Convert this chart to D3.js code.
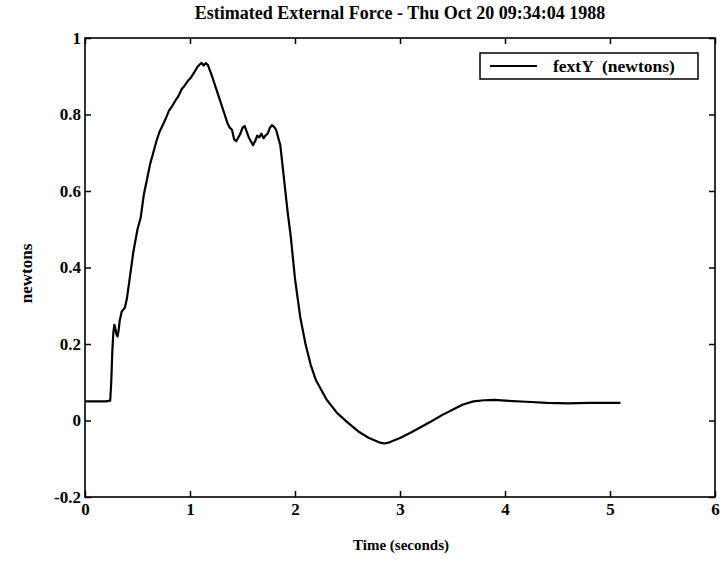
<!DOCTYPE html>
<html>
<head>
<meta charset="utf-8">
<script src="https://cdn.jsdelivr.net/npm/d3@7"></script>
<style>
  html, body { margin: 0; padding: 0; background: #fff; }
  svg { display: block; }
  text { font-family: "Liberation Serif", "Times New Roman", serif; fill: #000; }
</style>
</head>
<body>
<svg id="chart" width="723" height="568"></svg>
<script>
// Estimated external force (Y component) over time
const timeSec = [
  0, 0.1, 0.2, 0.24, 0.25, 0.26, 0.27, 0.28, 0.29, 0.30, 0.31, 0.32, 0.33, 0.35, 0.38,
  0.40, 0.43, 0.46, 0.48, 0.50, 0.53, 0.56, 0.59, 0.62, 0.65, 0.68, 0.71, 0.74, 0.77,
  0.80, 0.83, 0.86, 0.89, 0.92, 0.95, 0.98, 1.01, 1.04, 1.07, 1.09, 1.11, 1.13, 1.15,
  1.17, 1.19, 1.21, 1.24, 1.27, 1.30, 1.33, 1.36, 1.38, 1.40, 1.42, 1.44, 1.46, 1.48,
  1.50, 1.52, 1.54, 1.56, 1.58, 1.60, 1.62, 1.64, 1.66, 1.68, 1.70, 1.72, 1.74, 1.76,
  1.78, 1.80, 1.82, 1.84, 1.86, 1.88, 1.90, 1.93, 1.96, 2.00, 2.05, 2.10, 2.15, 2.20,
  2.30, 2.40, 2.50, 2.60, 2.70, 2.80, 2.85, 2.90, 3.00, 3.10, 3.20, 3.30, 3.40, 3.50,
  3.60, 3.70, 3.80, 3.90, 4.00, 4.20, 4.40, 4.60, 4.80, 5.00, 5.10
];
const fextY = [
  0.05, 0.05, 0.05, 0.052, 0.10, 0.18, 0.23, 0.25, 0.24, 0.225, 0.22, 0.235, 0.26, 0.285, 0.295,
  0.32, 0.38, 0.44, 0.47, 0.50, 0.53, 0.59, 0.63, 0.67, 0.70, 0.73, 0.755, 0.772, 0.79,
  0.81, 0.822, 0.836, 0.848, 0.866, 0.876, 0.888, 0.897, 0.91, 0.924, 0.93, 0.935, 0.928, 0.934,
  0.93, 0.915, 0.90, 0.875, 0.85, 0.825, 0.80, 0.775, 0.765, 0.76, 0.735, 0.73, 0.74, 0.75,
  0.765, 0.77, 0.755, 0.74, 0.73, 0.72, 0.73, 0.745, 0.74, 0.75, 0.738, 0.745, 0.75, 0.765,
  0.772, 0.768, 0.76, 0.74, 0.72, 0.67, 0.62, 0.545, 0.48, 0.37, 0.27, 0.20, 0.145, 0.105,
  0.055, 0.02, -0.005, -0.028, -0.045, -0.057, -0.06, -0.057, -0.046, -0.032, -0.017, -0.002, 0.014, 0.028,
  0.042, 0.05, 0.053, 0.054, 0.052, 0.049, 0.046, 0.045, 0.046, 0.046, 0.046
];

const xTicks = [0, 1, 2, 3, 4, 5, 6];
const yTicks = [-0.2, 0, 0.2, 0.4, 0.6, 0.8, 1];
const yTickLabels = ["-0.2", "0", "0.2", "0.4", "0.6", "0.8", "1"];

const titleText = "Estimated External Force - Thu Oct 20 09:34:04 1988";
const xLabel = "Time (seconds)";
const yLabel = "newtons";
const legendLabel = "fextY  (newtons)";

const svg = d3.select("#chart");
const plot = { left: 85, top: 38, right: 715, bottom: 497 };

const x = d3.scaleLinear().domain([0, 6]).range([plot.left, plot.right]);
const y = d3.scaleLinear().domain([-0.2, 1]).range([plot.bottom, plot.top]);

// inward ticks on all four sides
const tickLen = 6;
const axisStyle = g => {
  g.select(".domain").remove();
  g.selectAll(".tick line").attr("stroke", "#000").attr("stroke-width", 1.5);
};
const tickText = g => g.selectAll("text")
  .attr("font-size", 17).attr("font-weight", "bold")
  .attr("font-family", "Liberation Serif, serif");

svg.append("g")
  .attr("transform", `translate(0,${plot.bottom})`)
  .call(d3.axisBottom(x).tickValues(xTicks).tickSize(-tickLen).tickPadding(6).tickFormat(d3.format("d")))
  .call(axisStyle)
  .call(tickText);

svg.append("g")
  .attr("transform", `translate(0,${plot.top})`)
  .call(d3.axisTop(x).tickValues(xTicks).tickSize(-tickLen).tickFormat(""))
  .call(axisStyle);

svg.append("g")
  .attr("transform", `translate(${plot.left},0)`)
  .call(d3.axisLeft(y).tickValues(yTicks).tickSize(-tickLen).tickPadding(4)
    .tickFormat((d, i) => yTickLabels[i]))
  .call(axisStyle)
  .call(tickText);

svg.append("g")
  .attr("transform", `translate(${plot.right},0)`)
  .call(d3.axisRight(y).tickValues(yTicks).tickSize(-tickLen).tickFormat(""))
  .call(axisStyle);

// frame
svg.append("rect")
  .attr("x", plot.left).attr("y", plot.top)
  .attr("width", plot.right - plot.left).attr("height", plot.bottom - plot.top)
  .attr("fill", "none").attr("stroke", "#000").attr("stroke-width", 1.6);

// data line
const pts = timeSec.map((t, i) => [t, fextY[i]]);
svg.append("path")
  .datum(pts)
  .attr("fill", "none")
  .attr("stroke", "#000")
  .attr("stroke-width", 2.2)
  .attr("stroke-linejoin", "round")
  .attr("d", d3.line().x(d => x(d[0])).y(d => y(d[1])));

// title
svg.append("text")
  .attr("x", 400).attr("y", 19)
  .attr("text-anchor", "middle")
  .attr("font-size", 18).attr("font-weight", "bold")
  .text(titleText);

// axis labels
svg.append("text")
  .attr("x", 401).attr("y", 550)
  .attr("text-anchor", "middle")
  .attr("font-size", 15).attr("font-weight", "bold")
  .text(xLabel);

svg.append("text")
  .attr("transform", `translate(32,${(plot.top + plot.bottom) / 2 + 6}) rotate(-90)`)
  .attr("text-anchor", "middle")
  .attr("font-size", 17).attr("font-weight", "bold")
  .text(yLabel);

// legend
const legend = svg.append("g");
legend.append("rect")
  .attr("x", 480).attr("y", 53).attr("width", 218).attr("height", 26)
  .attr("fill", "#fff").attr("stroke", "#000").attr("stroke-width", 1.5);
legend.append("line")
  .attr("x1", 490).attr("x2", 537).attr("y1", 66).attr("y2", 66)
  .attr("stroke", "#000").attr("stroke-width", 2.2);
legend.append("text")
  .attr("x", 553).attr("y", 72)
  .attr("font-size", 17.5).attr("font-weight", "bold")
  .attr("xml:space", "preserve")
  .style("white-space", "pre")
  .text(legendLabel);
</script>
</body>
</html>
